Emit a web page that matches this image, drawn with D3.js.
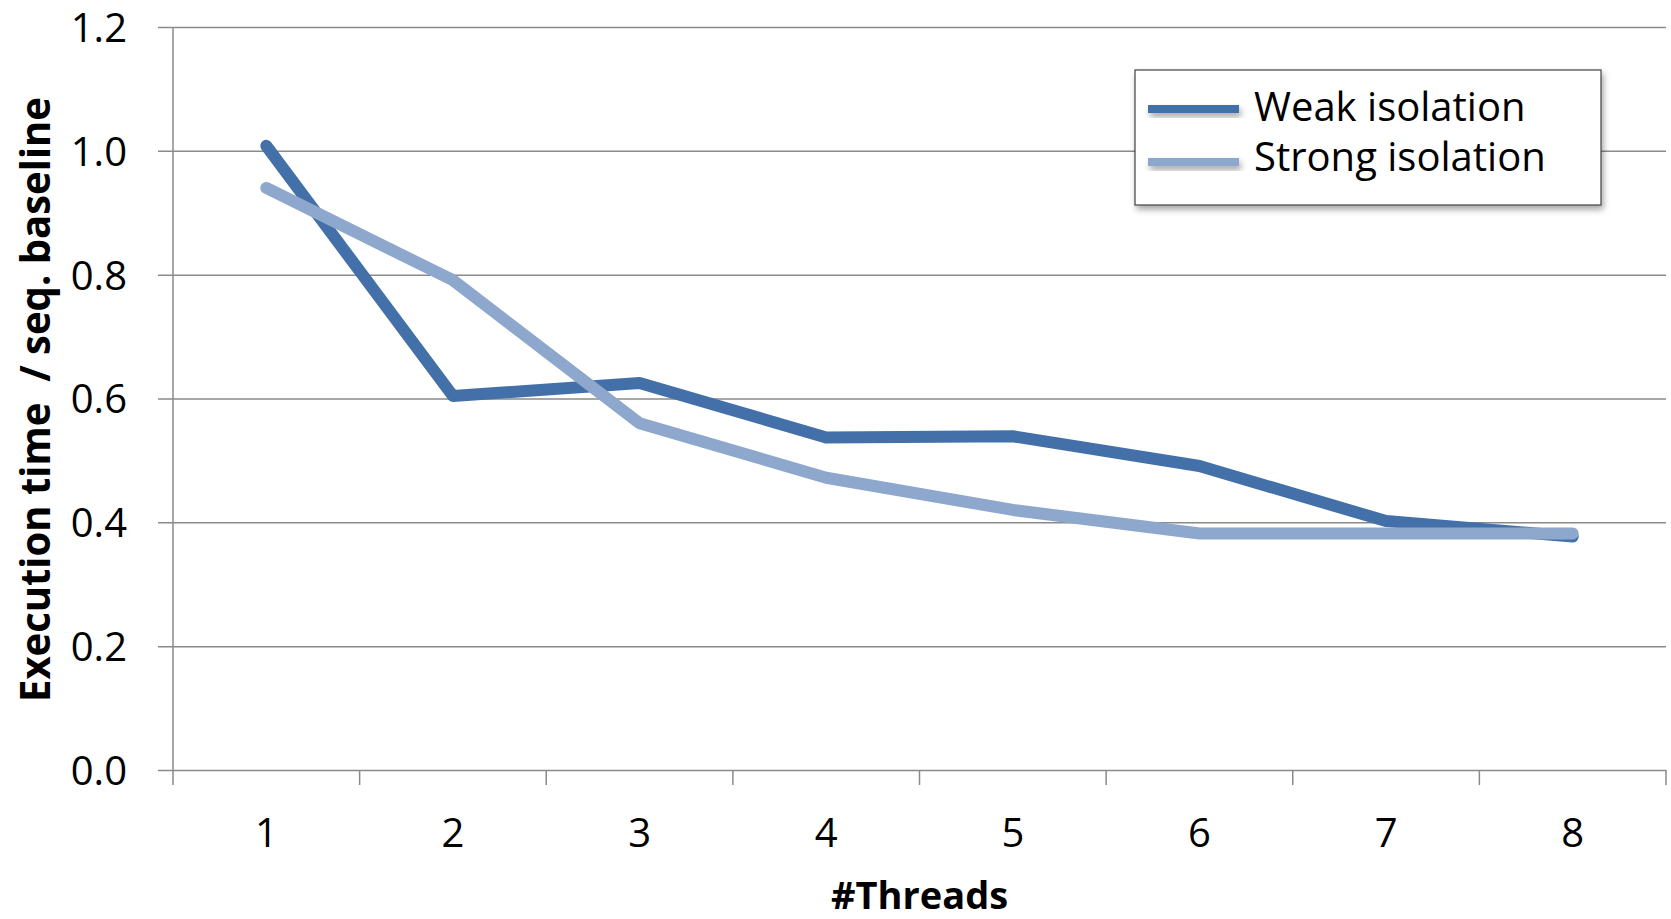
<!DOCTYPE html>
<html>
<head>
<meta charset="utf-8">
<script src="https://cdn.jsdelivr.net/npm/d3@7"></script>
<style>
  html, body { margin: 0; padding: 0; background: #fff; }
  svg { display: block; font-family: "Open Sans", "Noto Sans", sans-serif; }
</style>
</head>
<body>
<svg id="chart" width="1671" height="919"></svg>
<script>
// Thread counts on the x axis
const threads = ["1", "2", "3", "4", "5", "6", "7", "8"];
// Execution time relative to the sequential baseline
const weakIsolation   = [1.008, 0.604, 0.625, 0.537, 0.539, 0.491, 0.402, 0.377];
const strongIsolation = [0.940, 0.791, 0.560, 0.472, 0.420, 0.382, 0.382, 0.382];
const yTicks = [0.0, 0.2, 0.4, 0.6, 0.8, 1.0, 1.2];
const seriesNames = ["Weak isolation", "Strong isolation"];
const seriesColors = ["#4370a8", "#8ea7cc"];

const svg = d3.select("#chart");
const margin = { left: 173, right: 5, top: 27, bottom: 149 };
const W = 1671, H = 919;

const x = d3.scaleBand().domain(threads)
  .range([margin.left, W - margin.right]).paddingInner(0).paddingOuter(0);
const y = d3.scaleLinear().domain([0, 1.2]).range([H - margin.bottom, margin.top]);

const gridColor = "#8a8a8a";

// Soft drop shadow for the legend box and its swatches
const defs = svg.append("defs");
const sh = defs.append("filter").attr("id", "shadow")
  .attr("x", "-20%").attr("y", "-40%").attr("width", "140%").attr("height", "200%");
sh.append("feDropShadow").attr("dx", 2).attr("dy", 4).attr("stdDeviation", 3)
  .attr("flood-color", "#000").attr("flood-opacity", 0.35);

// Horizontal gridlines with left tick stubs
const yAxis = d3.axisLeft(y).tickValues(yTicks)
  .tickSize(-(W - margin.right - margin.left + 15))
  .tickFormat(d3.format(".1f"));
const gy = svg.append("g").attr("transform", `translate(${margin.left - 15},0)`).call(yAxis);
gy.select(".domain").remove();
gy.selectAll(".tick line").attr("stroke", gridColor).attr("stroke-width", 1.5)
  .attr("x2", W - margin.right - margin.left + 15).attr("x1", 0);
gy.selectAll(".tick text").attr("x", -31).attr("dy", "0.36em")
  .attr("font-size", 40).attr("fill", "#000").attr("font-family", "Open Sans");

// Vertical axis line
svg.append("line")
  .attr("x1", margin.left).attr("x2", margin.left)
  .attr("y1", y(1.2)).attr("y2", y(0) + 15)
  .attr("stroke", gridColor).attr("stroke-width", 1.5);

// Category boundary ticks below the x axis
const bounds = threads.map(t => x(t)).concat([x(threads[threads.length - 1]) + x.bandwidth()]);
svg.append("g").selectAll("line").data(bounds.slice(1)).join("line")
  .attr("x1", d => d).attr("x2", d => d)
  .attr("y1", y(0)).attr("y2", y(0) + 15)
  .attr("stroke", gridColor).attr("stroke-width", 1.5);

// Category labels
svg.append("g").selectAll("text").data(threads).join("text")
  .attr("x", d => x(d) + x.bandwidth() / 2)
  .attr("y", y(0) + 77)
  .attr("text-anchor", "middle")
  .attr("font-size", 40).attr("fill", "#000")
  .text(d => d);

// Series lines
const line = d3.line()
  .x((d, i) => x(threads[i]) + x.bandwidth() / 2)
  .y(d => y(d));
[weakIsolation, strongIsolation].forEach((vals, k) => {
  svg.append("path").datum(vals)
    .attr("d", line)
    .attr("fill", "none")
    .attr("stroke", seriesColors[k])
    .attr("stroke-width", 12)
    .attr("stroke-linecap", "round")
    .attr("stroke-linejoin", "round");
});

// Axis titles
svg.append("text")
  .attr("x", (margin.left + W - margin.right) / 2).attr("y", 909)
  .attr("text-anchor", "middle").attr("font-weight", "bold")
  .attr("font-size", 38).attr("fill", "#000")
  .text("#Threads");
svg.append("text")
  .attr("transform", `translate(50,${(y(0) + y(1.2)) / 2 + 1}) rotate(-90)`)
  .attr("text-anchor", "middle").attr("font-weight", "bold")
  .attr("font-size", 41).attr("fill", "#000")
  .attr("textLength", 605).attr("lengthAdjust", "spacingAndGlyphs")
  .attr("xml:space", "preserve")
  .text("Execution time  / seq. baseline");

// Legend
const lg = svg.append("g");
lg.append("rect")
  .attr("x", 1135).attr("y", 70).attr("width", 466).attr("height", 135)
  .attr("fill", "#fff").attr("stroke", "#404040").attr("stroke-width", 1.2)
  .attr("filter", "url(#shadow)");
seriesNames.forEach((name, k) => {
  const cy = 109 + k * 53;
  lg.append("rect")
    .attr("x", 1148).attr("y", cy - 4).attr("width", 91).attr("height", 8)
    .attr("fill", seriesColors[k])
    .attr("filter", "url(#shadow)");
  lg.append("text")
    .attr("x", 1254).attr("y", 121 + k * 50)
    .attr("font-size", 40).attr("fill", "#000")
    .text(name);
});
</script>
</body>
</html>
